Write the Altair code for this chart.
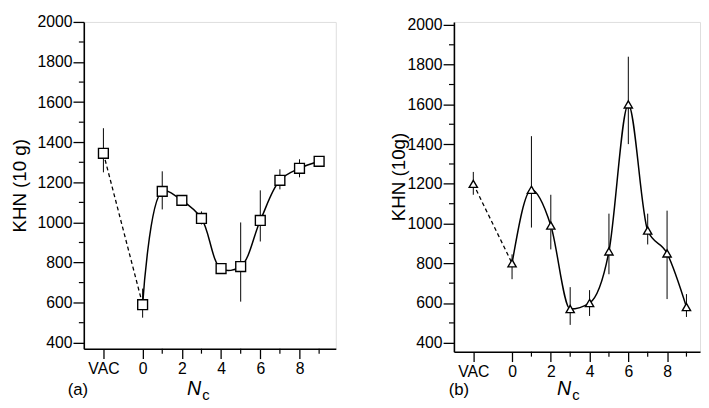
import altair as alt
import pandas as pd

# ---- data ----
x_pos = [-2, 0, 1, 2, 3, 4, 5, 6, 7, 8, 9]          # -2 is the "VAC" position
a_khn = [1345, 590, 1155, 1110, 1020, 770, 780, 1010, 1210, 1270, 1305]
a_lo = [1250, 525, 1065, 1095, 990, 765, 605, 905, 1165, 1225, 1295]
a_hi = [1470, 670, 1255, 1125, 1055, 775, 1000, 1160, 1265, 1315, 1315]
b_khn = [1200, 800, 1170, 990, 570, 600, 860, 1600, 965, 850, 580]
b_lo = [1145, 720, 980, 870, 490, 535, 745, 1400, 895, 620, 530]
b_hi = [1260, 845, 1440, 1145, 680, 665, 1050, 1840, 1050, 1065, 645]
y_major = [400, 600, 800, 1000, 1200, 1400, 1600, 1800, 2000]
y_minor = [500, 700, 900, 1100, 1300, 1500, 1700, 1900]
x_major = [-2, 0, 2, 4, 6, 8]
x_minor = [1, 3, 5, 7, 9]

FONT = "Liberation Sans"


def panel(khn, lo, hi, shape, size, interp, xdom, ydom, width, height, ytitle,
          title_xy, tag, tag_xy, n_xy):
    df = pd.DataFrame({"x": x_pos, "y": khn, "lo": lo, "hi": hi})
    xs = alt.Scale(domain=xdom, nice=False, zero=False)
    ys = alt.Scale(domain=ydom, nice=False, zero=False)
    xax = alt.Axis(values=x_major, title=None, grid=False,
                   labelExpr="datum.value == -2 ? 'VAC' : datum.label",
                   tickSize=10, tickColor="black", tickWidth=1.3,
                   domainColor="black", domainWidth=1.6,
                   labelFont=FONT, labelFontSize=16, labelColor="black",
                   labelPadding=2)
    yax = alt.Axis(values=y_major, format="d", title=ytitle, grid=False,
                   tickSize=11, tickColor="black", tickWidth=1.3,
                   domainColor="black", domainWidth=1.6,
                   labelFont=FONT, labelFontSize=16, labelColor="black",
                   labelPadding=1,
                   titleFont=FONT, titleFontSize=19, titleFontWeight="normal",
                   titleColor="black", titleX=title_xy[0], titleY=title_xy[1],
                   titleBaseline="middle", titleAngle=270)
    base = alt.Chart(df)
    X = alt.X("x:Q", scale=xs, axis=xax)
    Y = alt.Y("y:Q", scale=ys, axis=yax)
    err = base.mark_rule(color="black", strokeWidth=1).encode(
        x=alt.X("x:Q", scale=xs), y=alt.Y("lo:Q", scale=ys), y2="hi:Q")
    solid = base.transform_filter("datum.x >= 0").mark_line(
        interpolate=interp, color="black", strokeWidth=1.5
    ).encode(x=X, y=Y)
    dashed = base.transform_filter("datum.x <= 0").mark_line(
        color="black", strokeWidth=1.3, strokeDash=[4, 3]
    ).encode(x=alt.X("x:Q", scale=xs), y=alt.Y("y:Q", scale=ys))
    pts = base.mark_point(shape=shape, size=size, filled=True, fill="white",
                          stroke="black", strokeWidth=1.4, opacity=1).encode(
        x=alt.X("x:Q", scale=xs), y=alt.Y("y:Q", scale=ys))
    ymin = alt.Chart(pd.DataFrame({"v": y_minor})).mark_rule(
        color="black", strokeWidth=1.2).encode(
        x=alt.value(-5), x2=alt.value(0), y=alt.Y("v:Q", scale=ys))
    xmin = alt.Chart(pd.DataFrame({"v": x_minor})).mark_rule(
        color="black", strokeWidth=1.2).encode(
        x=alt.X("v:Q", scale=xs), y=alt.value(height), y2=alt.value(height + 5))
    one = pd.DataFrame({"t": [0]})
    tag_t = alt.Chart(one).mark_text(font=FONT, fontSize=17, color="black").encode(
        x=alt.value(tag_xy[0]), y=alt.value(tag_xy[1]), text=alt.value(tag))
    n_t = alt.Chart(one).mark_text(font=FONT, fontSize=20, fontStyle="italic",
                                   color="black").encode(
        x=alt.value(n_xy[0]), y=alt.value(n_xy[1]), text=alt.value("N"))
    c_t = alt.Chart(one).mark_text(font=FONT, fontSize=15, color="black").encode(
        x=alt.value(n_xy[0] + 12), y=alt.value(n_xy[1] + 6), text=alt.value("c"))
    return alt.layer(solid, err, dashed, pts, ymin, xmin, tag_t, n_t, c_t).properties(
        width=width, height=height)


pa = panel(a_khn, a_lo, a_hi, "square", 100, "catmull-rom", [-3, 9.85], [370, 2000],
           256, 332, "KHN (10 g)", (-65, 166), "(a)", (-6, 374), (112, 373))
pb = panel(b_khn, b_lo, b_hi, "triangle-up", 70, "monotone", [-3, 9.7], [355, 2015],
           250, 335, "KHN (10g)", (-56, 157), "(b)", (5, 374), (112, 373))

chart = alt.hconcat(pa, pb, spacing=120, bounds="flush").properties(
    padding={"left": 2, "top": 2, "right": 0, "bottom": 0}
).configure_view(stroke=None).configure(background="white")

chart.save("out.html", embed_options={"renderer": "svg", "actions": False})
